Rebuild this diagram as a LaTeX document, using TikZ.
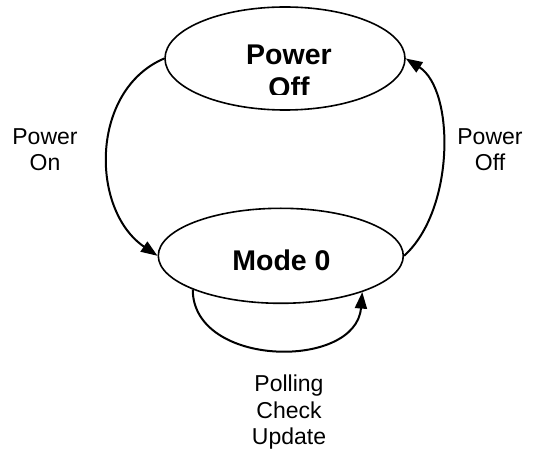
\documentclass[tikz,border=0pt]{standalone}
\usepackage{fontspec}
\setmainfont{Liberation Sans}
\usetikzlibrary{shapes.geometric,arrows.meta}

\tikzset{
  state/.style={draw=black, line width=1.6pt, ellipse, inner sep=0pt,
    minimum width=#1},
  statename/.style={font=\fontsize{28.5}{32.5}\selectfont\bfseries,
    align=center, inner sep=0pt, anchor=north},
  edgelabel/.style={font=\fontsize{23}{26.5}\selectfont,
    align=center, inner sep=0pt, anchor=north},
  transition/.style={line width=2pt,
    -{Triangle[length=16.5pt,width=12pt]}},
}

\begin{document}
\begin{tikzpicture}[x=1pt, y=-1pt]
  \useasboundingbox (0,0) rectangle (536,449);

  % the two states
  \node[state=240pt, minimum height=103pt] (off) at (285,58.5) {};
  \node[state=245pt, minimum height=95pt] (mode) at (280.8,255.8) {};

  % state names (the second line of the upper one is cut at its box)
  \begin{scope}
    \clip (180,0) rectangle (390,94.5);
    \node[statename] (offname) at (289,45) {Power\\Off};
  \end{scope}
  \node[statename] (modename) at (281.5,250) {Mode 0};

  % transitions
  \draw[transition] (off.west) .. controls (90,90) and (90,210) .. (mode.west);
  \draw[transition] (mode.east) .. controls (455,210) and (455,90) .. (off.east);
  \draw[transition] (mode.201.7) .. controls (193,368) and (356,370) .. (mode.336.9);

  % transition labels
  \node[edgelabel] (lon) at (45,128) {Power\\On};
  \node[edgelabel] (loff) at (490,128) {Power\\Off};
  \node[edgelabel] (lloop) at (289,375) {Polling\\Check\\Update};
\end{tikzpicture}
\end{document}
